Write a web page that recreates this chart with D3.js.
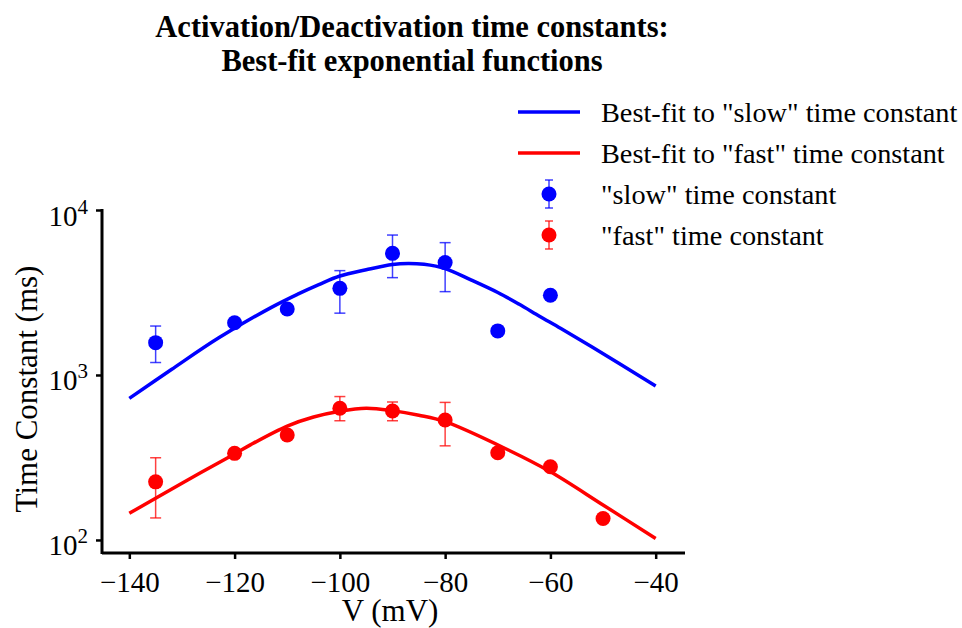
<!doctype html>
<html>
<head>
<meta charset="utf-8">
<title>Activation/Deactivation time constants</title>
<script src="https://cdn.jsdelivr.net/npm/d3@7"></script>
<style>
  body { margin: 0; background: #fff; }
  svg { display: block; font-family: "Liberation Serif", "DejaVu Serif", serif; }
</style>
</head>
<body>
<div id="chart"></div>
<script>
  // measured points (V in mV, tau in ms)
  const slowV = [-135, -120, -110, -100, -90, -80, -70, -60];
  const slowTau = [1570, 2075, 2510, 3350, 5460, 4800, 1850, 3040];
  const slowLo = [1190, null, null, 2370, 3890, 3200, null, null];
  const slowHi = [1980, null, null, 4290, 7050, 6340, null, null];

  const fastV = [-135, -120, -110, -100, -90, -80, -70, -60, -50];
  const fastTau = [225, 335, 433, 628, 605, 533, 338, 278, 135];
  const fastLo = [136, null, null, 528, 528, 372, null, null, null];
  const fastHi = [315, null, null, 740, 686, 682, null, null, null];

  // best-fit curves
  const slowFitV = [-140, -132, -123, -113, -108, -104, -100, -95, -90, -87, -84, -80, -75, -70, -66, -62, -58, -52, -40];
  const slowFit = [721, 1079, 1679, 2570, 3090, 3532, 3981, 4345, 4677, 4742, 4684, 4416, 3758, 3162, 2692, 2265, 1914, 1472, 857];
  const fastFitV = [-140, -130, -120, -117, -110, -105, -100, -95, -90, -85, -80, -68, -60, -50, -40];
  const fastFit = [145, 221, 332, 377, 490, 556, 603, 629, 608, 570, 521, 351, 259, 163, 102];

  const xTicks = [-140, -120, -100, -80, -60, -40];
  const yTicks = [100, 1000, 10000];

  const W = 962, H = 628;
  const svg = d3.select('#chart').append('svg')
    .attr('width', W)
    .attr('height', H);

  const x = d3.scaleLinear().domain([-145, -35]).range([103, 682]);
  const y = d3.scaleLog().domain([Math.pow(10, 1.921), 1e4]).range([553, 210]);

  const blue = '#0000ff', red = '#ff0000';

  // title
  const title = svg.append('text')
    .attr('text-anchor', 'middle')
    .attr('font-weight', 'bold')
    .attr('font-size', 30.5);
  title.append('tspan').attr('x', 412).attr('y', 37).text('Activation/Deactivation time constants:');
  title.append('tspan').attr('x', 412).attr('y', 71).text('Best-fit exponential functions');

  // axes
  const gx = svg.append('g')
    .attr('transform', 'translate(0,553)')
    .call(d3.axisBottom(x).tickValues(xTicks).tickSize(6).tickPadding(12)
      .tickFormat(d => '\u2212' + Math.abs(d)));
  gx.select('.domain').attr('d', `M${102},0H${685}`).attr('stroke-width', 3);
  gx.selectAll('.tick line').attr('stroke-width', 2.5);
  gx.selectAll('.tick text').attr('font-size', 29).attr('font-family', 'Liberation Serif').attr('fill', '#000');

  const gy = svg.append('g')
    .attr('transform', 'translate(102,0)')
    .call(d3.axisLeft(y).tickValues(yTicks).tickSize(6).tickFormat(''));
  gy.select('.domain').attr('d', `M0,${209}V${554}`).attr('stroke-width', 3);
  gy.selectAll('.tick line').attr('stroke-width', 2.5);

  // tick labels as 10^n
  const yl = gy.selectAll('.tick').append('text')
    .attr('x', -14)
    .attr('y', 15)
    .attr('text-anchor', 'end')
    .attr('fill', '#000')
    .attr('font-size', 29)
    .attr('font-family', 'Liberation Serif');
  yl.append('tspan').text('10');
  yl.append('tspan').attr('dy', -12).attr('font-size', 21).text(d => Math.round(Math.log10(d)));

  // axis labels
  svg.append('text')
    .attr('x', 390).attr('y', 621)
    .attr('text-anchor', 'middle')
    .attr('font-size', 31)
    .text('V (mV)');
  svg.append('text')
    .attr('transform', 'translate(37,389) rotate(-90)')
    .attr('text-anchor', 'middle')
    .attr('font-size', 31)
    .text('Time Constant (ms)');

  // fit lines
  const line = d3.line()
    .x(d => x(d[0]))
    .y(d => y(d[1]))
    .curve(d3.curveCatmullRom);

  svg.append('path')
    .attr('d', line(slowFitV.map((v, i) => [v, slowFit[i]])))
    .attr('fill', 'none').attr('stroke', blue).attr('stroke-width', 3.5);
  svg.append('path')
    .attr('d', line(fastFitV.map((v, i) => [v, fastFit[i]])))
    .attr('fill', 'none').attr('stroke', red).attr('stroke-width', 3.5);

  function drawPoints(vs, taus, lo, hi, color) {
    const g = svg.append('g');
    const pts = vs.map((v, i) => ({ v, t: taus[i], lo: lo[i], hi: hi[i] }));
    const eb = g.selectAll('g.err').data(pts.filter(d => d.lo != null)).join('g')
      .attr('stroke', color).attr('stroke-opacity', 0.75).attr('stroke-width', 1.5);
    eb.append('line')
      .attr('x1', d => x(d.v)).attr('x2', d => x(d.v))
      .attr('y1', d => y(d.lo)).attr('y2', d => y(d.hi));
    eb.append('line')
      .attr('x1', d => x(d.v) - 5.5).attr('x2', d => x(d.v) + 5.5)
      .attr('y1', d => y(d.lo)).attr('y2', d => y(d.lo));
    eb.append('line')
      .attr('x1', d => x(d.v) - 5.5).attr('x2', d => x(d.v) + 5.5)
      .attr('y1', d => y(d.hi)).attr('y2', d => y(d.hi));
    g.selectAll('circle').data(pts).join('circle')
      .attr('cx', d => x(d.v)).attr('cy', d => y(d.t))
      .attr('r', 7.5).attr('fill', color);
  }
  drawPoints(slowV, slowTau, slowLo, slowHi, blue);
  drawPoints(fastV, fastTau, fastLo, fastHi, red);

  // legend
  const legend = [
    { label: 'Best-fit to "slow" time constant', color: blue, kind: 'line' },
    { label: 'Best-fit to "fast" time constant', color: red, kind: 'line' },
    { label: '"slow" time constant', color: blue, kind: 'pt' },
    { label: '"fast" time constant', color: red, kind: 'pt' }
  ];
  const lg = svg.append('g').selectAll('g').data(legend).join('g')
    .attr('transform', (d, i) => `translate(0,${112 + i * 41})`);
  lg.filter(d => d.kind === 'line').append('line')
    .attr('x1', 518).attr('x2', 580).attr('y1', 0).attr('y2', 0)
    .attr('stroke', d => d.color).attr('stroke-width', 3.5);
  const lp = lg.filter(d => d.kind === 'pt');
  lp.append('line')
    .attr('x1', 549).attr('x2', 549).attr('y1', -14).attr('y2', 14)
    .attr('stroke', d => d.color).attr('stroke-opacity', 0.75).attr('stroke-width', 1.5);
  lp.append('line')
    .attr('x1', 545).attr('x2', 553).attr('y1', -14).attr('y2', -14)
    .attr('stroke', d => d.color).attr('stroke-opacity', 0.75).attr('stroke-width', 1.5);
  lp.append('line')
    .attr('x1', 545).attr('x2', 553).attr('y1', 14).attr('y2', 14)
    .attr('stroke', d => d.color).attr('stroke-opacity', 0.75).attr('stroke-width', 1.5);
  lp.append('circle')
    .attr('cx', 549).attr('cy', 0).attr('r', 7.5)
    .attr('fill', d => d.color);
  lg.append('text')
    .attr('x', 601).attr('y', 10)
    .attr('font-size', 28.3)
    .text(d => d.label);
</script>
</body>
</html>
